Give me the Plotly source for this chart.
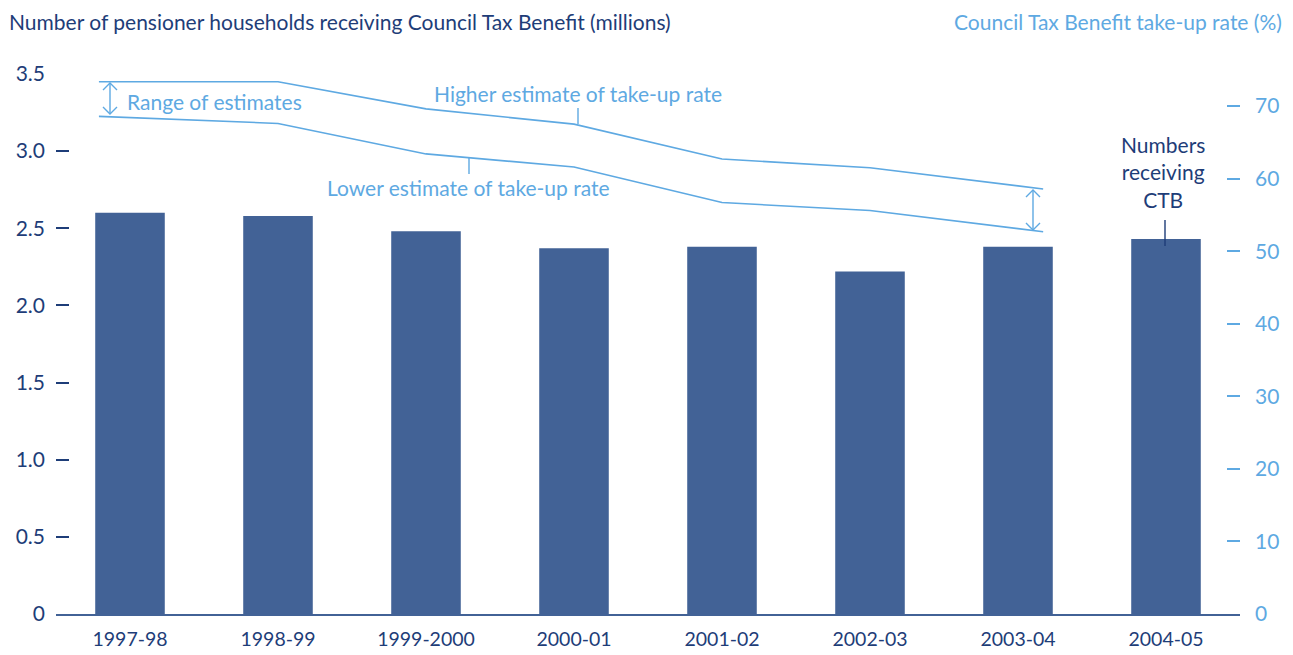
import plotly.graph_objects as go

years = ["1997-98", "1998-99", "1999-2000", "2000-01", "2001-02", "2002-03", "2003-04", "2004-05"]
recipients_m = [2.60, 2.58, 2.48, 2.37, 2.38, 2.22, 2.38, 2.43]
higher_rate = [73.35, 73.35, 69.6, 67.5, 62.7, 61.5, 59.0]
lower_rate = [68.4, 67.6, 63.4, 61.6, 56.7, 55.6, 53.1]
left_ticks = [0, 0.5, 1.0, 1.5, 2.0, 2.5, 3.0, 3.5]
left_ticktext = ["0", "0.5", "1.0", "1.5", "2.0", "2.5", "3.0", "3.5"]
right_ticks = [0, 10, 20, 30, 40, 50, 60, 70]

BAR = "#426296"
NAVY = "#1e3d78"
LIGHT = "#5ea9e2"
FONT = "Lato"

W, H = 1293, 655
L, R, T, B = 56, 1240, 74, 614

def px(x):
    return (x - L) / (R - L)

def py(y):
    return (B - y) / (B - T)

# line x positions: categories, with end segments extended by extrapolation
n = len(higher_rate)
x_start, x_end = -0.21, 6.17

def extend(vals):
    xs = [x_start] + list(range(n)) + [x_end]
    first = vals[0] + (vals[1] - vals[0]) * x_start
    last = vals[-1] + (vals[-1] - vals[-2]) * (x_end - (n - 1))
    return xs, [first] + list(vals) + [last]

hx, hy = extend(higher_rate)
lx, ly = extend(lower_rate)

fig = go.Figure()
fig.add_trace(go.Bar(x=list(range(len(years))), y=recipients_m, width=0.47,
                     marker=dict(color=BAR, line=dict(width=0)), yaxis="y",
                     name="Numbers receiving CTB"))
fig.add_trace(go.Scatter(x=hx, y=hy, mode="lines", line=dict(color=LIGHT, width=1.6),
                         yaxis="y2", name="Higher estimate"))
fig.add_trace(go.Scatter(x=lx, y=ly, mode="lines", line=dict(color=LIGHT, width=1.6),
                         yaxis="y2", name="Lower estimate"))

shapes = []
def vline(x, y0, y1, color, w=1.4):
    shapes.append(dict(type="line", xref="paper", yref="paper", x0=px(x), x1=px(x),
                       y0=py(y0), y1=py(y1), line=dict(color=color, width=w)))

def darrow(x, y0, y1, color):
    vline(x, y0, y1, color)
    a = 7
    path_top = f"M {px(x-a)},{py(y0+a)} L {px(x)},{py(y0)} L {px(x+a)},{py(y0+a)}"
    path_bot = f"M {px(x-a)},{py(y1-a)} L {px(x)},{py(y1)} L {px(x+a)},{py(y1-a)}"
    for p in (path_top, path_bot):
        shapes.append(dict(type="path", xref="paper", yref="paper", path=p,
                           line=dict(color=color, width=1.4)))

darrow(110, 83, 114, LIGHT)
darrow(1033, 190, 230, LIGHT)
vline(578, 108, 124, LIGHT)
vline(469, 158, 174, LIGHT)
vline(1165, 220, 246, NAVY)

SZ = 21
annotations = []
def text(x, y, s, color, anchor="center", size=SZ):
    annotations.append(dict(xref="paper", yref="paper", x=px(x), y=py(y), text=s,
                            showarrow=False, xanchor=anchor, yanchor="middle",
                            font=dict(family=FONT, size=size, color=color)))

text(125, 101, "Range of estimates", LIGHT, "left")
text(578, 93, "Higher estimate of take-up rate", LIGHT)
text(468, 187, "Lower estimate of take-up rate", LIGHT)
annotations.append(dict(xref="paper", yref="paper", x=px(1163), y=py(172),
                        text="Numbers<br>receiving<br>CTB", showarrow=False,
                        xanchor="center", yanchor="middle", align="center",
                        font=dict(family=FONT, size=SZ, color=NAVY)))
text(7, 21, "Number of pensioner households receiving Council Tax Benefit (millions)", NAVY, "left")
text(1284, 21, "Council Tax Benefit take-up rate (%)", LIGHT, "right")

fig.update_layout(
    width=W, height=H,
    margin=dict(l=L, r=W - R, t=T, b=H - B, pad=0),
    paper_bgcolor="white", plot_bgcolor="white",
    showlegend=False,
    font=dict(family=FONT, size=SZ, color=NAVY),
    xaxis=dict(range=[-0.5, len(years) - 0.5], tickvals=list(range(len(years))),
               ticktext=years, showgrid=False, zeroline=False, showline=True,
               linecolor=BAR, linewidth=2, ticks="", ticklabelstandoff=7, automargin=False,
               tickfont=dict(color=NAVY, size=19.5)),
    yaxis=dict(range=[0, 3.5], tickvals=left_ticks, ticktext=left_ticktext, automargin=False,
               showgrid=False, zeroline=False, showline=False, ticks="inside",
               ticklen=13, tickwidth=1.5, tickcolor=NAVY, ticklabelstandoff=10,
               tickfont=dict(color=NAVY, size=21)),
    yaxis2=dict(range=[0, (B - T) / 7.257], tickvals=right_ticks, overlaying="y", side="right",
                showgrid=False, zeroline=False, showline=False, ticks="inside", automargin=False,
                ticklen=13, tickwidth=1.5, tickcolor=LIGHT, ticklabelstandoff=14,
                tickfont=dict(color=LIGHT, size=21)),
    shapes=shapes, annotations=annotations,
)

fig.write_html("out.html")
